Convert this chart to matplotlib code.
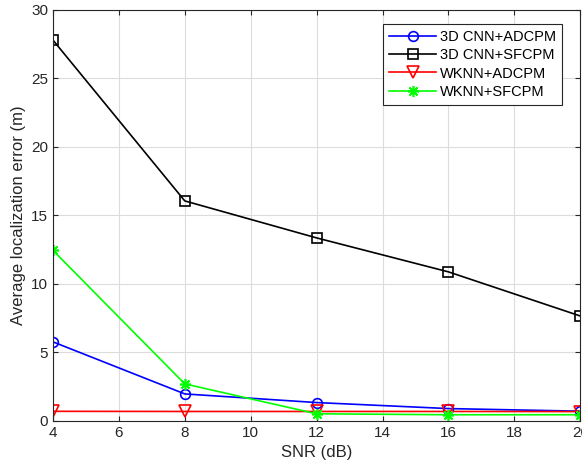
import matplotlib
matplotlib.use('Agg')
import matplotlib.pyplot as plt

plt.rcParams['font.family'] = ['Liberation Sans', 'DejaVu Sans']

snr = [4, 8, 12, 16, 20]
cnn_adcpm = [5.77, 1.97, 1.34, 0.90, 0.71]
cnn_sfcpm = [27.8, 16.06, 13.36, 10.88, 7.66]
wknn_adcpm = [0.70, 0.69, 0.69, 0.69, 0.68]
wknn_sfcpm = [12.45, 2.70, 0.52, 0.45, 0.45]

fig = plt.figure(figsize=(5.82, 4.74), dpi=100)
ax = fig.add_axes([0.091, 0.112, 0.906, 0.867])

ax.plot(snr, cnn_adcpm, color='#0000ff', marker='o', mfc='none', ms=7, mew=1.2, lw=1.2, label='3D CNN+ADCPM')
ax.plot(snr, cnn_sfcpm, color='black', marker='s', mfc='none', ms=7, mew=1.2, lw=1.2, label='3D CNN+SFCPM')
ax.plot(snr, wknn_adcpm, color='#ff0000', marker='v', mfc='none', ms=8, mew=1.2, lw=1.2, label='WKNN+ADCPM')
ax.plot(snr, wknn_sfcpm, color='#00ff00', marker=(8, 2, 0), ms=8, mew=1.2, lw=1.2, label='WKNN+SFCPM')

ax.set_xlim(4, 20)
ax.set_ylim(0, 30)
ax.set_xticks(range(4, 21, 2))
ax.set_yticks(range(0, 31, 5))
ax.grid(True, color='#dcdcdc', lw=0.8)
ax.set_axisbelow(True)
ax.tick_params(direction='in', top=True, right=True, labelsize=11, colors='#262626')
for s in ax.spines.values():
    s.set_color('#262626')
    s.set_linewidth(0.8)
ax.set_xlabel('SNR (dB)', fontsize=12, color='#262626')
ax.set_ylabel('Average localization error (m)', fontsize=12, color='#262626')

leg = ax.legend(loc='upper right', bbox_to_anchor=(0.966, 0.966), borderaxespad=0,
                fontsize=10.5, fancybox=False, edgecolor='#262626', framealpha=1,
                handlelength=3.2, labelspacing=0.3, handletextpad=0.3)
leg.get_frame().set_linewidth(0.8)

fig.savefig('out.png', dpi=100)
